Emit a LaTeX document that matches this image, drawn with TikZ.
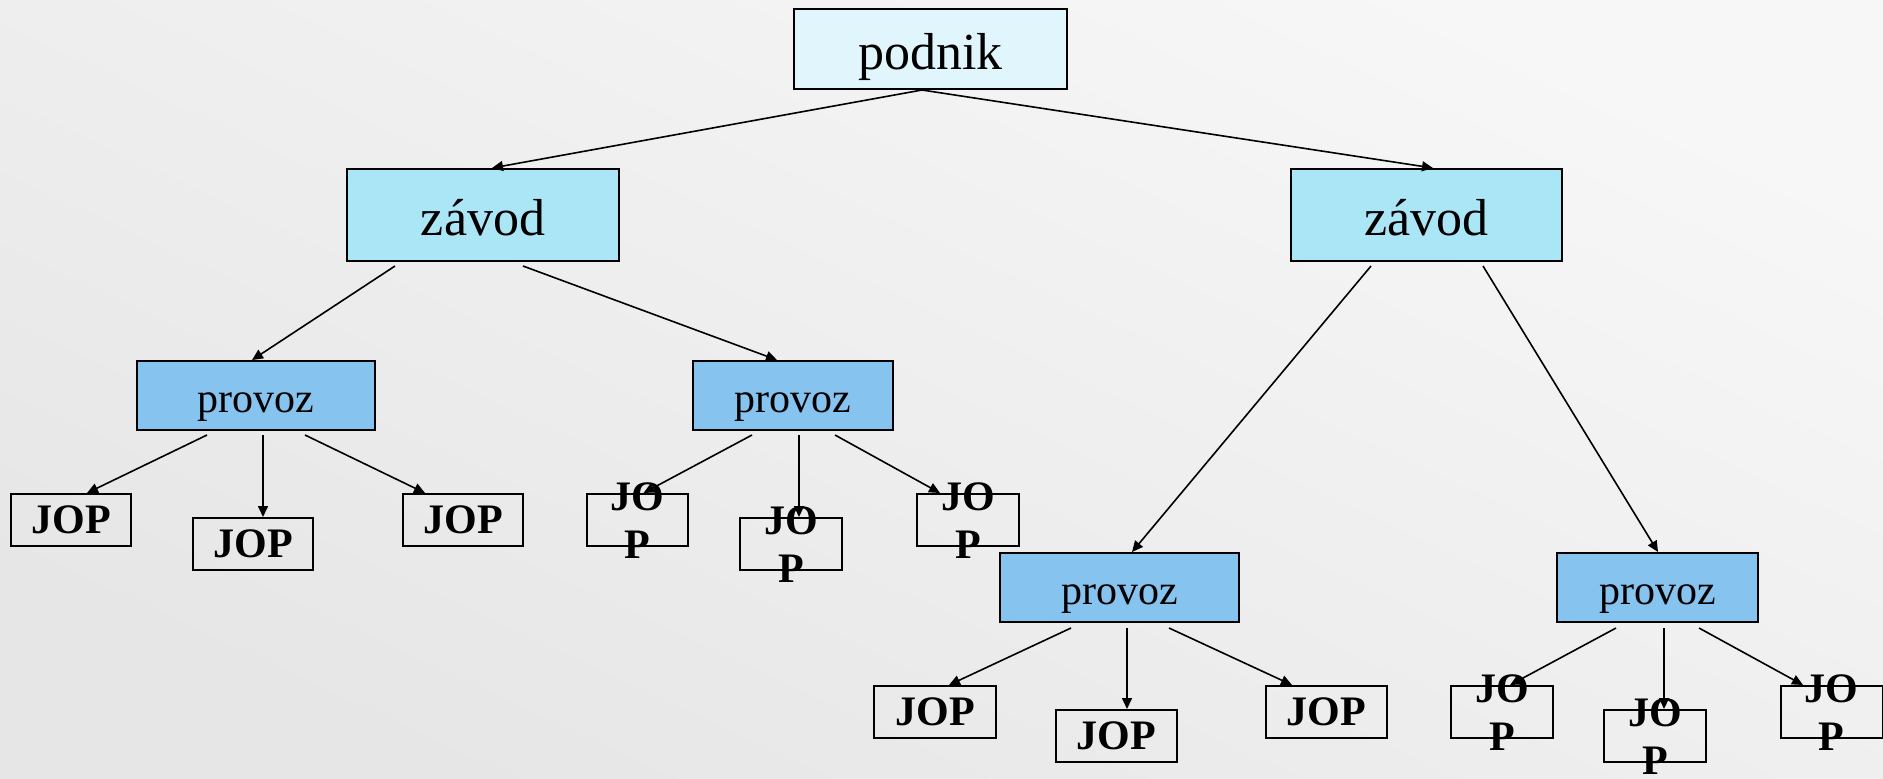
\documentclass[tikz,border=0pt]{standalone}
\usepackage{fontspec}
\setmainfont{Liberation Serif}
\usetikzlibrary{arrows.meta,calc}
\definecolor{bgl}{HTML}{F7F7F7}
\definecolor{bgd}{HTML}{E6E6E6}
\definecolor{cpod}{HTML}{E1F6FC}
\definecolor{czav}{HTML}{ABE6F7}
\definecolor{cprov}{HTML}{86C3EF}
\newcommand\jowrap{\smash{\raisebox{-7.5pt}{\begin{tabular}{@{}c@{}}JO\\P\end{tabular}}}}
\begin{document}
\begin{tikzpicture}[x=0.5pt,y=-0.5pt,
  box/.style={draw=black, line width=1pt, inner sep=0pt, anchor=center},
  podbox/.style={box, fill=cpod, minimum width=136.5pt, minimum height=40pt, text height=20.4pt, text depth=0pt, font=\fontsize{26}{30}\selectfont},
  zavbox/.style={box, fill=czav, minimum width=136pt, minimum height=46pt, text height=20.4pt, text depth=0pt, font=\fontsize{26}{30}\selectfont},
  provbox/.style={box, fill=cprov, minimum height=34.5pt, text height=17pt, text depth=0pt, font=\fontsize{21}{24}\selectfont},
  jopbox/.style={box, minimum height=26pt, font=\fontsize{21}{24}\selectfont\bfseries},
  arr/.style={-{Triangle[length=5.5pt,width=5pt]}, line width=0.8pt},
]
\useasboundingbox (0,0) rectangle (1883,778);
\shade[shading=axis, top color=bgl, bottom color=bgd, shading angle=-25] (0,0) rectangle (1883,778);

% nodes
\node[podbox] (pod) at (930.5,49) {podnik};
\node[zavbox] (zl) at (483,215) {závod};
\node[zavbox, minimum width=135.5pt] (zr) at (1426.5,215) {závod};

\node[provbox, minimum width=119pt] (pl1) at (256,395.5) {provoz};
\node[provbox, minimum width=100pt] (pl2) at (793,395.5) {provoz};
\node[provbox, minimum width=119.5pt] (pr1) at (1119.5,587.5) {provoz};
\node[provbox, minimum width=100.5pt] (pr2) at (1657.5,587.5) {provoz};

\node[jopbox, minimum width=60pt] (j1) at (71,520) {JOP};
\node[jopbox, minimum width=60pt] (j2) at (253,544) {JOP};
\node[jopbox, minimum width=60pt] (j3) at (463,520) {JOP};
\node[jopbox, minimum width=50.5pt] (j4) at (637.5,520) {\jowrap};
\node[jopbox, minimum width=51pt] (j5) at (791,544) {\jowrap};
\node[jopbox, minimum width=51pt] (j6) at (968,520) {\jowrap};
\node[jopbox, minimum width=61pt] (j7) at (935,712) {JOP};
\node[jopbox, minimum width=60.5pt] (j8) at (1116.5,736) {JOP};
\node[jopbox, minimum width=60.5pt] (j9) at (1326.5,712) {JOP};
\node[jopbox, minimum width=51pt] (j10) at (1502,712) {\jowrap};
\node[jopbox, minimum width=51pt] (j11) at (1655,736) {\jowrap};
\node[jopbox, minimum width=51pt] (j12) at (1831.5,712) {\jowrap};

% connectors
\draw[arr] ($(pod.south)+(-8.5,0)$) -- ($(zl.north)+(9,0)$);
\draw[arr] ($(pod.south)+(-8.5,0)$) -- ($(zr.north)+(6.5,0)$);

\draw[arr] ($(zl.south)+(-88,4)$) -- ($(pl1.north)+(-4,0)$);
\draw[arr] ($(zl.south)+(40,4)$) -- ($(pl2.north)+(-16,0)$);
\draw[arr] ($(zr.south)+(-55.5,4)$) -- ($(pr1.north)+(12.5,0)$);
\draw[arr] ($(zr.south)+(56.5,4)$) -- ($(pr2.north)+(0.5,0)$);

\draw[arr] ($(pl1.south)+(-49,4)$) -- ($(j1.north)+(16,0)$);
\draw[arr] ($(pl1.south)+(7,4)$) -- ($(j2.north)+(10,0)$);
\draw[arr] ($(pl1.south)+(49,4)$) -- ($(j3.north)+(-38,0)$);

\draw[arr] ($(pl2.south)+(-41,4)$) -- ($(j4.north)+(6,0)$);
\draw[arr] ($(pl2.south)+(6,4)$) -- ($(j5.north)+(8,0)$);
\draw[arr] ($(pl2.south)+(42,4)$) -- ($(j6.north)+(-28,0)$);

\draw[arr] ($(pr1.south)+(-48.5,5)$) -- ($(j7.north)+(14,0)$);
\draw[arr] ($(pr1.south)+(7.5,5)$) -- ($(j8.north)+(10.5,0)$);
\draw[arr] ($(pr1.south)+(49.5,5)$) -- ($(j9.north)+(-34.5,0)$);

\draw[arr] ($(pr2.south)+(-41.5,5)$) -- ($(j10.north)+(8,0)$);
\draw[arr] ($(pr2.south)+(6.5,5)$) -- ($(j11.north)+(9,0)$);
\draw[arr] ($(pr2.south)+(41.5,5)$) -- ($(j12.north)+(-28.5,0)$);
\end{tikzpicture}
\end{document}
